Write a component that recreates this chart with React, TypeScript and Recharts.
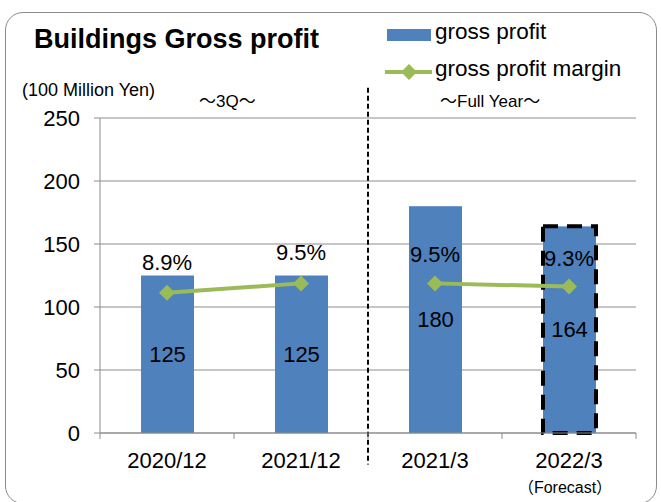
import React from "react"
import { Bar, ComposedChart, Line, XAxis, YAxis, CartesianGrid, LabelList, ReferenceLine } from "recharts"

const categories = ["2020/12", "2021/12", "2021/3", "2022/3"]
const grossProfit = [125, 125, 180, 164]
const margin3Q = [8.9, 9.5, null, null]
const marginFullYear = [null, null, 9.5, 9.3]
const forecast = [false, false, false, true]
const yTicks = [0, 50, 100, 150, 200, 250]

const data = categories.map((name, i) => ({
  name,
  profit: grossProfit[i],
  m3q: margin3Q[i],
  mfy: marginFullYear[i],
  forecast: forecast[i],
}))

const BLUE = "#4F81BD"
const GREEN = "#9BBB59"
const GRID = "#8c8c8c"
const FONT = "'Liberation Sans', Arial, 'Noto Sans CJK JP', sans-serif"

const ForecastBar = (props: any) => {
  const { x, y, width, height, payload } = props
  if (!payload?.forecast) {
    return <rect x={x} y={y} width={width} height={height} fill={BLUE} />
  }
  return (
    <g>
      <rect x={x} y={y} width={width} height={height} fill={BLUE} />
      <rect x={x} y={y} width={width} height={height} fill="none" stroke="#000" strokeWidth={4} strokeDasharray="15 9" />
    </g>
  )
}

const Diamond = (props: any) => {
  const { cx, cy, index } = props
  if (cx == null || cy == null || props.value == null) return <g key={`d${index}`} />
  const r = 8
  return (
    <polygon
      key={`d${index}`}
      points={`${cx},${cy - r} ${cx + r},${cy} ${cx},${cy + r} ${cx - r},${cy}`}
      fill={GREEN}
    />
  )
}

const XTick = (props: any) => {
  const { x, y, payload, index, width, visibleTicksCount } = props
  const half = width && visibleTicksCount ? width / visibleTicksCount / 2 : 67
  return (
    <g>
      <line x1={x + half} x2={x + half} y1={y} y2={y + 6} stroke={GRID} />
      {index === 0 && <line x1={x - half} x2={x - half} y1={y} y2={y + 6} stroke={GRID} />}
      <text x={x} y={y + 27} dy="0.35em" textAnchor="middle" fontSize={22} fill="#000" fontFamily={FONT}>
        {payload.value}
      </text>
      {payload.value === "2022/3" && (
        <text x={x - 4} y={y + 54} dy="0.35em" textAnchor="middle" fontSize={16} fill="#000" fontFamily={FONT}>
          （Forecast）
        </text>
      )}
    </g>
  )
}

const pct = (v: any) => (v == null ? "" : `${Number(v).toFixed(1)}%`)

export default function App() {
  return (
    <div style={{ position: "absolute", left: 0, top: 0, width: 661, height: 502, background: "#fff", fontFamily: FONT, lineHeight: 1.15 }}>
      <div
        style={{
          position: "absolute",
          left: 5,
          top: 12,
          width: 652,
          height: 492,
          border: "1.5px solid #8a8a8a",
          borderRadius: 18,
          boxSizing: "border-box",
        }}
      />
      <div style={{ position: "absolute", left: 34, top: 24, fontSize: 27, fontWeight: "bold", color: "#000", whiteSpace: "nowrap" }}>
        Buildings Gross profit
      </div>
      <div style={{ position: "absolute", left: 22, top: 80, fontSize: 18, color: "#000", whiteSpace: "nowrap" }}>(100 Million Yen)</div>
      <div style={{ position: "absolute", left: 199, top: 92, fontSize: 17, color: "#000", whiteSpace: "nowrap" }}>～3Q～</div>
      <div style={{ position: "absolute", left: 440, top: 92, fontSize: 17, color: "#000", whiteSpace: "nowrap" }}>～Full Year～</div>

      <svg style={{ position: "absolute", left: 385, top: 20 }} width={50} height={64}>
        <rect x={2} y={9} width={44} height={12} fill={BLUE} />
        <line x1={0} x2={47} y1={52} y2={52} stroke={GREEN} strokeWidth={4} />
        <polygon points="24,44 32,52 24,60 16,52" fill={GREEN} />
      </svg>
      <div style={{ position: "absolute", left: 435, top: 19, fontSize: 22.5, color: "#000", whiteSpace: "nowrap" }}>gross profit</div>
      <div style={{ position: "absolute", left: 435, top: 56, fontSize: 22.5, color: "#000", whiteSpace: "nowrap" }}>gross profit margin</div>

      <div style={{ position: "absolute", left: 0, top: 0 }}>
        <ComposedChart
          width={661}
          height={502}
          data={data}
          margin={{ top: 118, right: 25, left: 0, bottom: 29 }}
          barSize={53}
        >
          <CartesianGrid vertical={false} stroke={GRID} yAxisId="amt" />
          <XAxis
            dataKey="name"
            height={40}
            axisLine={{ stroke: GRID }}
            tickLine={false}
            tickSize={0}
            tickMargin={0}
            tick={<XTick />}
            interval={0}
          />
          <YAxis
            yAxisId="amt"
            domain={[0, 250]}
            ticks={yTicks}
            width={100}
            axisLine={{ stroke: GRID }}
            tickLine={{ stroke: GRID }}
            tickSize={6}
            tickMargin={14}
            tick={{ fontSize: 22, fill: "#000", fontFamily: FONT }}
          />
          <YAxis
            yAxisId="pct"
            orientation="right"
            domain={[0, 20]}
            width={0}
            tick={false}
            tickLine={false}
            axisLine={{ stroke: GRID }}
          />
          <Bar yAxisId="amt" dataKey="profit" fill={BLUE} shape={<ForecastBar />} isAnimationActive={false}>
            <LabelList dataKey="profit" position="center" fontSize={22} fill="#000" fontFamily={FONT} />
          </Bar>
          <Line
            yAxisId="pct"
            dataKey="m3q"
            stroke={GREEN}
            strokeWidth={4}
            dot={<Diamond />}
            activeDot={false}
            connectNulls={false}
            isAnimationActive={false}
          >
            <LabelList dataKey="m3q" position="top" offset={23} fontSize={22} fill="#000" fontFamily={FONT} formatter={pct} />
          </Line>
          <Line
            yAxisId="pct"
            dataKey="mfy"
            stroke={GREEN}
            strokeWidth={4}
            dot={<Diamond />}
            activeDot={false}
            connectNulls={false}
            isAnimationActive={false}
          >
            <LabelList dataKey="mfy" position="top" offset={21} fontSize={22} fill="#000" fontFamily={FONT} formatter={pct} />
          </Line>
          <ReferenceLine
            yAxisId="amt"
            segment={[
              { x: "2021/12", y: 274 },
              { x: "2021/12", y: -25 },
            ]}
            position="end"
            ifOverflow="visible"
            stroke="#000"
            strokeWidth={2}
            strokeDasharray="5 3"
          />
        </ComposedChart>
      </div>
    </div>
  )
}
